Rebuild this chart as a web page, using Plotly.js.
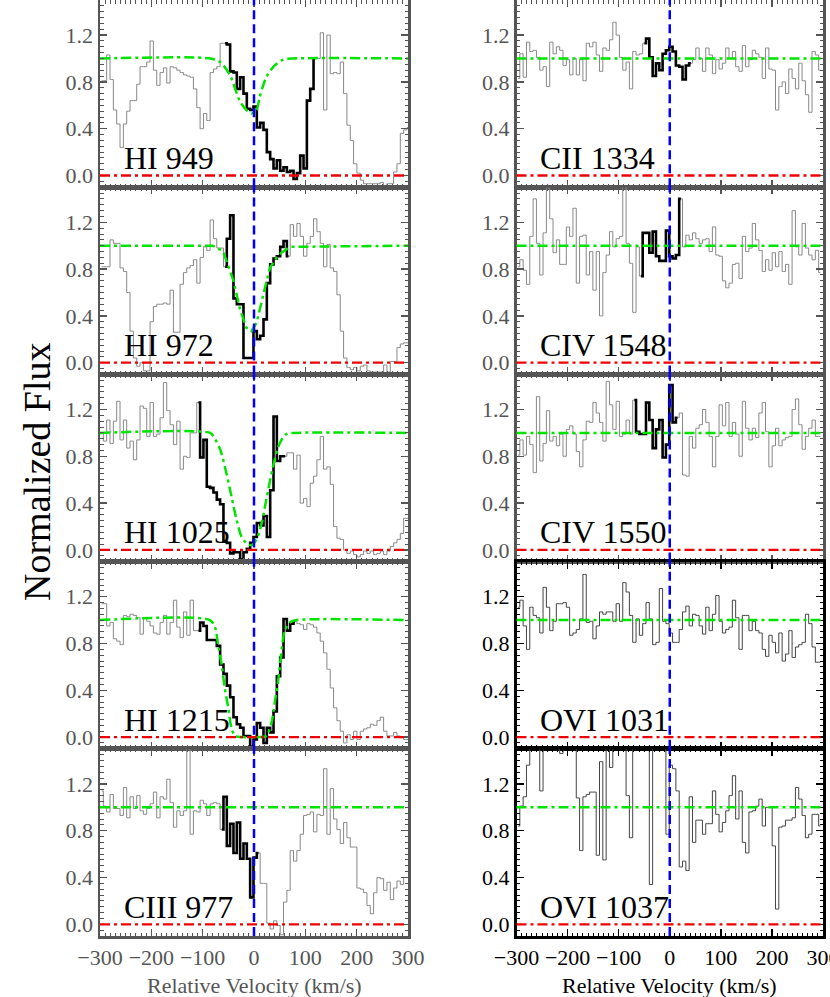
<!DOCTYPE html>
<html>
<head>
<meta charset="utf-8">
<script src="https://cdn.plot.ly/plotly-3.0.1.min.js"></script>
<style>html,body{margin:0;padding:0;background:#fff}#chart{width:830px;height:997px}</style>
</head>
<body>
<div id="chart"></div>
<script>
// ---------- velocity grid (bin centres, km/s) ----------
const V_START = -296.75;
const V_STEP = 6.5;

// ---------- panel labels ----------
const labels = ["HI 949", "HI 972", "HI 1025", "HI 1215", "CIII 977",
                "CII 1334", "CIV 1548", "CIV 1550", "OVI 1031", "OVI 1037"];

// ---------- normalized flux per panel ----------
const flux_HI949 = [0.81,0.81,1.03,0.82,0.56,0.44,0.24,0.44,0.55,0.64,
  0.64,0.78,0.93,0.93,0.97,1.15,0.90,0.77,0.88,0.92,
  0.79,0.93,0.92,0.90,0.88,0.86,0.85,0.84,0.74,0.58,
  0.40,0.53,0.47,0.88,0.91,0.93,1.13,1.13,1.12,0.89,
  0.88,0.74,0.84,0.70,0.57,0.56,0.59,0.41,0.45,0.39,
  0.20,0.14,0.06,0.13,0.04,0.07,0.03,0.04,-0.03,0.02,
  0.17,0.06,0.64,0.74,1.00,1.00,1.22,0.56,1.20,0.87,
  0.88,0.87,0.97,0.70,0.43,0.30,0.10,0.02,-0.04,-0.07,
  -0.07,-0.07,-0.07,-0.07,-0.06,-0.09,-0.07,-0.07,0.03,0.10,
  0.36,0.39,0.41];
const flux_HI972 = [0.82,0.82,0.82,1.05,1.02,1.02,0.81,0.78,0.60,0.27,
  0.04,-0.03,0.00,-0.07,-0.07,0.35,0.48,0.50,0.50,0.51,
  0.50,0.62,0.26,0.26,0.67,0.77,0.81,0.83,0.88,0.68,
  0.90,0.99,0.96,1.22,1.06,0.98,0.98,0.82,1.06,1.26,
  0.55,0.50,0.50,0.04,0.04,0.04,0.27,0.20,0.23,0.37,
  0.68,0.84,0.89,0.91,0.99,1.04,0.91,1.18,1.08,1.19,
  1.08,0.91,1.02,1.08,1.23,1.12,1.02,0.82,1.01,0.81,
  0.78,0.58,0.27,0.04,-0.04,-0.06,-0.04,-0.07,-0.03,-0.02,
  -0.07,-0.08,-0.08,-0.08,-0.08,-0.02,-0.08,0.01,0.01,0.13,
  0.16,0.17,0.17];
const flux_HI1025 = [1.00,0.93,1.11,0.91,1.10,1.27,0.94,1.11,0.87,0.93,
  0.77,0.94,1.23,1.21,0.97,1.26,0.97,0.99,1.13,1.43,
  1.19,1.07,0.90,1.10,0.69,0.80,0.79,1.00,1.00,1.26,
  0.79,0.94,0.54,0.53,0.49,0.43,0.39,0.07,0.06,-0.03,
  -0.02,-0.02,-0.08,-0.02,0.01,0.06,0.11,0.23,0.21,0.29,
  0.11,0.51,1.14,0.76,0.80,0.80,0.83,0.83,0.69,0.81,
  0.40,0.44,0.37,0.57,0.63,0.77,0.97,0.69,0.71,0.56,
  0.20,0.10,0.09,0.00,-0.03,-0.01,-0.04,-0.06,-0.04,-0.01,
  -0.03,-0.01,-0.04,-0.03,-0.01,-0.04,-0.01,0.03,0.06,0.09,
  0.14,0.27,0.27];
const flux_HI1215 = [1.14,1.14,0.95,0.98,0.84,0.82,0.79,1.04,1.03,1.05,
  1.04,1.02,0.88,1.02,0.99,0.95,0.89,0.88,0.98,1.04,
  0.88,0.98,1.17,0.94,0.85,1.07,0.87,1.17,0.91,0.91,
  0.98,0.95,0.83,0.83,0.83,0.78,0.62,0.54,0.44,0.34,
  0.17,0.11,0.08,0.01,0.01,-0.08,-0.02,0.12,0.08,-0.05,
  0.08,0.04,0.22,0.52,0.68,1.01,0.91,0.97,0.99,0.97,
  0.96,0.92,0.97,0.96,0.94,0.89,0.82,0.72,0.58,0.42,
  0.25,0.14,0.05,-0.05,0.02,-0.02,0.05,-0.02,0.05,0.07,
  0.08,0.11,0.10,0.14,0.17,0.05,0.01,0.01,0.04,0.01,
  0.00,-0.02,-0.02];
const flux_CIII977 = [1.14,1.01,0.96,1.11,0.99,0.99,0.93,1.17,0.91,1.09,
  0.99,1.10,0.97,0.94,0.99,1.03,1.13,0.91,1.09,1.07,
  1.24,1.04,0.83,0.97,0.93,0.97,1.60,0.77,0.97,0.96,
  1.06,1.03,0.93,1.03,1.04,1.03,0.81,1.09,0.67,0.86,
  0.61,0.87,0.56,0.69,0.56,0.23,0.57,0.61,0.35,0.35,
  0.01,-0.04,0.03,-0.01,-0.09,0.19,0.29,0.63,0.54,0.63,
  0.77,0.93,0.94,0.96,0.79,0.94,0.93,1.33,0.77,1.16,
  0.90,0.81,0.69,0.87,0.74,0.66,0.66,0.31,0.30,0.27,
  0.16,0.09,0.27,0.40,0.39,0.29,0.36,0.21,0.31,0.37,
  0.34,0.40,0.40];
const flux_CII1334 = [0.83,1.04,0.84,1.14,1.06,1.07,1.01,0.90,0.93,0.76,
  1.14,1.04,1.10,1.07,0.94,0.99,0.86,1.00,0.86,0.99,
  0.81,1.13,1.10,1.14,1.03,0.89,1.09,1.07,1.16,1.31,
  1.20,1.01,0.90,0.97,0.74,1.06,1.03,1.04,1.13,1.17,
  1.01,0.85,0.96,0.90,1.04,1.07,1.10,1.06,0.94,0.93,
  0.82,0.94,0.96,0.99,1.09,1.00,0.89,1.09,1.03,0.87,
  0.99,0.91,0.96,1.09,1.00,1.06,0.93,0.89,1.11,0.93,
  0.99,1.07,1.04,1.01,0.83,1.09,0.91,0.90,0.56,0.76,
  0.80,0.70,0.91,0.83,0.74,0.96,0.81,0.69,0.54,1.06,
  1.03,0.90];
const flux_CIV1548 = [0.82,0.88,0.79,0.67,1.08,1.40,1.02,0.75,1.11,1.49,
  1.23,0.94,1.05,0.84,0.84,1.16,1.08,1.32,0.68,1.08,
  1.09,0.75,0.95,0.62,0.95,0.40,0.77,0.92,1.12,0.99,
  1.06,1.08,1.52,1.02,0.85,0.43,0.99,0.74,1.11,1.11,
  0.94,1.12,0.91,0.87,0.87,1.13,0.91,0.89,0.92,1.40,
  0.99,1.09,1.05,1.11,1.06,1.02,1.05,1.06,0.95,1.16,
  0.92,0.91,0.70,0.64,0.68,0.84,0.85,0.72,1.08,0.95,
  0.98,1.19,1.05,0.96,0.78,0.88,0.79,0.94,0.82,0.95,
  0.78,0.84,0.67,1.30,0.99,0.92,1.19,0.98,0.92,0.88,
  0.96,0.77];
const flux_CIV1550 = [0.81,0.94,0.81,0.97,0.90,0.66,1.31,0.76,0.91,1.19,
  0.93,0.97,0.89,0.99,0.80,1.03,1.06,0.99,0.84,0.71,
  0.94,1.10,1.09,1.26,1.17,1.09,0.93,1.44,1.24,1.03,
  1.27,0.97,0.99,1.11,0.99,1.28,1.01,0.99,0.99,1.26,
  1.11,0.87,1.03,1.11,0.79,0.90,1.41,1.09,1.13,1.17,
  0.64,0.63,0.97,0.87,1.04,1.07,1.20,1.09,0.97,0.71,
  0.97,1.24,1.06,1.26,0.97,1.09,0.99,0.80,1.27,1.04,
  0.94,1.04,0.96,1.17,1.26,1.01,0.71,0.89,1.04,0.89,
  0.94,0.96,0.97,1.20,1.29,1.07,0.86,0.97,1.04,1.11,
  0.97,0.97];
const flux_OVI1031 = [1.11,1.17,0.95,0.75,1.11,1.04,1.02,0.89,1.28,1.11,
  0.91,0.99,1.14,1.14,1.15,1.11,0.87,0.89,0.92,1.01,
  1.39,0.98,0.99,0.84,0.95,1.07,1.05,1.07,1.07,0.99,
  1.14,0.99,1.32,1.24,1.04,0.81,1.01,0.87,0.97,1.15,
  1.01,0.79,0.81,1.27,0.99,0.97,0.89,0.81,0.81,0.92,
  1.07,1.12,0.95,1.05,1.04,0.95,0.88,1.11,0.91,1.05,
  1.21,0.99,0.89,0.92,0.94,1.17,1.02,0.75,1.04,1.04,
  0.91,0.99,0.91,0.89,0.75,0.69,0.87,0.81,0.72,0.89,
  0.65,0.71,0.91,0.68,0.77,0.79,0.81,1.05,0.97,0.77,
  0.64,0.64];
const flux_OVI1037 = [0.84,1.01,1.09,1.36,1.60,1.60,1.60,1.14,1.60,1.60,
  1.60,1.60,1.60,1.46,1.60,1.60,1.60,1.60,1.08,0.63,
  1.09,1.11,1.13,1.13,0.59,1.39,0.55,1.60,1.34,1.60,
  1.60,1.60,1.60,1.10,0.74,1.60,1.60,1.60,1.60,1.60,
  0.34,1.60,1.60,1.60,1.60,0.77,1.36,1.33,1.14,0.49,
  0.54,0.46,1.09,0.70,0.89,0.89,0.77,0.86,0.86,1.14,
  0.94,0.79,0.87,0.97,1.10,1.27,0.90,1.14,0.70,0.61,
  0.96,0.97,1.01,1.07,0.84,1.00,1.00,0.67,0.13,0.83,
  0.84,0.89,0.89,0.91,1.17,1.07,0.93,0.74,0.77,0.94,
  0.94,0.84];

// ---------- velocity range of the highlighted (black) component ----------
const hl_HI949 = [-60, 122];
const hl_HI972 = [-58, 70];
const hl_HI1025 = [-110, 62];
const hl_HI1215 = [-110, 82];
const hl_CIII977 = [-66, 10];
const hl_CII1334 = [-52, 43];
const hl_CIV1548 = [-58, 24];
const hl_CIV1550 = [-70, 17];

// ---------- model fits (velocity knots, model flux) ----------
const fitV_HI949 = [-300,-85,-66,-47,-28,-15,-5,5,11,24,40,57,75,300];
const fitF_HI949 = [1,1,0.97,0.86,0.64,0.56,0.53,0.56,0.67,0.84,0.94,0.99,1,1];
const fitV_HI972 = [-300,-80,-60,-40,-28,-15,-5,5,18,31,47,70,300];
const fitF_HI972 = [1,1,0.95,0.70,0.47,0.30,0.27,0.34,0.58,0.81,0.92,0.99,1];
const fitV_HI1025 = [-300,-85,-79,-66,-54,-44,-34,-24,-15,-5,5,15,24,37,50,63,80,300];
const fitF_HI1025 = [1,1,0.97,0.86,0.66,0.46,0.26,0.11,0.06,0.04,0.09,0.23,0.43,0.71,0.91,0.99,1,1];
const fitV_HI1215 = [-300,-86,-76,-70,-63,-57,-50,-44,-37,-24,11,24,34,40,47,53,60,70,83,300];
const fitF_HI1215 = [1,1,0.94,0.79,0.62,0.42,0.25,0.08,0.01,0,0,0.01,0.12,0.28,0.48,0.71,0.91,0.98,1,1];

const CONTINUUM = 1.0;
const ZERO_FLUX = 0.0;
const SYSTEMIC_V = 0;

const panels = [
  {label: labels[0], flux: flux_HI949, hl: hl_HI949, fitV: fitV_HI949, fitF: fitF_HI949, fitShape: 'spline'},
  {label: labels[1], flux: flux_HI972, hl: hl_HI972, fitV: fitV_HI972, fitF: fitF_HI972, fitShape: 'linear'},
  {label: labels[2], flux: flux_HI1025, hl: hl_HI1025, fitV: fitV_HI1025, fitF: fitF_HI1025, fitShape: 'spline'},
  {label: labels[3], flux: flux_HI1215, hl: hl_HI1215, fitV: fitV_HI1215, fitF: fitF_HI1215, fitShape: 'spline'},
  {label: labels[4], flux: flux_CIII977, hl: hl_CIII977},
  {label: labels[5], flux: flux_CII1334, hl: hl_CII1334},
  {label: labels[6], flux: flux_CIV1548, hl: hl_CIV1548},
  {label: labels[7], flux: flux_CIV1550, hl: hl_CIV1550},
  {label: labels[8], flux: flux_OVI1031, dark: true},
  {label: labels[9], flux: flux_OVI1037, dark: true}
];

const W = 830, H = 997, PANEL_H = 187.2;
const colPx = [[100, 408], [516.5, 823]];
const SERIF = 'Liberation Serif, Times New Roman, serif';
const GREEN = '#00e400', RED = '#ee0000', BLUE = '#0000ff';
const DASHDOT = '10px,4px,3px,4px';

const traces = [];
const layout = {
  width: W, height: H,
  margin: {l: 0, r: 0, t: 0, b: 0},
  paper_bgcolor: '#ffffff', plot_bgcolor: '#ffffff',
  showlegend: false,
  shapes: [], annotations: []
};

panels.forEach((p, k) => {
  const n = k + 1;
  const col = k < 5 ? 0 : 1;
  const row = k % 5;
  const xa = 'x' + n, ya = 'y' + n;
  const frame = p.dark ? '#000000' : '#555555';
  const specColor = p.dark ? '#444444' : '#888888';

  // full spectrum
  traces.push({
    type: 'scatter', mode: 'lines', x0: V_START, dx: V_STEP, y: p.flux,
    line: {color: specColor, width: 1, shape: 'hvh'},
    xaxis: xa, yaxis: ya, hoverinfo: 'skip'
  });
  // highlighted component
  if (p.hl) {
    const idx = [];
    p.flux.forEach((f, i) => { const v = V_START + V_STEP * i; if (v >= p.hl[0] && v <= p.hl[1]) idx.push(i); });
    traces.push({
      type: 'scatter', mode: 'lines', x0: V_START + V_STEP * idx[0], dx: V_STEP,
      y: idx.map(i => p.flux[i]),
      line: {color: '#000000', width: 2.6, shape: 'hvh'},
      xaxis: xa, yaxis: ya, hoverinfo: 'skip'
    });
  }
  // model / continuum
  if (p.fitV) {
    traces.push({
      type: 'scatter', mode: 'lines', x: p.fitV, y: p.fitF,
      line: {color: GREEN, width: 2.5, dash: DASHDOT, shape: p.fitShape, smoothing: 0.8},
      xaxis: xa, yaxis: ya, hoverinfo: 'skip'
    });
  } else {
    layout.shapes.push({type: 'line', xref: xa + ' domain', yref: ya, x0: 0, x1: 1, y0: CONTINUUM, y1: CONTINUUM,
      line: {color: GREEN, width: 2.5, dash: DASHDOT}});
  }
  // zero level
  layout.shapes.push({type: 'line', xref: xa + ' domain', yref: ya, x0: 0, x1: 1, y0: ZERO_FLUX, y1: ZERO_FLUX,
    line: {color: RED, width: 2.3, dash: DASHDOT}});
  // systemic velocity
  layout.shapes.push({type: 'line', xref: xa, yref: ya + ' domain', x0: SYSTEMIC_V, x1: SYSTEMIC_V, y0: 0, y1: 1,
    line: {color: BLUE, width: 2.5, dash: '9px,5px'}});

  const bottom = row === 4;
  const axisCommon = {
    showline: true, linewidth: 2.5, linecolor: frame, mirror: 'allticks',
    ticks: 'inside', ticklen: 7, tickwidth: 1.5, tickcolor: frame,
    showgrid: false, zeroline: false,
    tickfont: {family: SERIF, size: 22, color: frame}
  };
  layout['xaxis' + n] = Object.assign({}, axisCommon, {
    domain: [colPx[col][0] / W, colPx[col][1] / W],
    range: [-300, 300], anchor: ya, tick0: 0, dtick: 100,
    minor: {ticks: 'inside', ticklen: 3.5, dtick: 10, tickcolor: frame, tickwidth: 1},
    showticklabels: bottom, ticklabeloverflow: 'allow'
  });
  layout['yaxis' + n] = Object.assign({}, axisCommon, {
    domain: [1 - (row + 1) * PANEL_H / H, 1 - row * PANEL_H / H],
    range: [-0.1, 1.5], anchor: xa, tick0: 0, dtick: 0.4, tickformat: '.1f',
    minor: {ticks: 'inside', ticklen: 3.5, dtick: 0.05, tickcolor: frame, tickwidth: 1}
  });

  layout.annotations.push({
    xref: xa, yref: ya, x: -257, y: 0.15, xanchor: 'left', yanchor: 'middle',
    text: p.label, showarrow: false, font: {family: SERIF, size: 32, color: '#000000'}
  });
});

// axis titles
layout.annotations.push({
  xref: 'paper', yref: 'paper', x: 254 / W, y: 1 - 985 / H, xanchor: 'center', yanchor: 'middle',
  text: 'Relative Velocity (km/s)', showarrow: false, font: {family: SERIF, size: 22, color: '#555555'}
});
layout.annotations.push({
  xref: 'paper', yref: 'paper', x: 669.5 / W, y: 1 - 985 / H, xanchor: 'center', yanchor: 'middle',
  text: 'Relative Velocity (km/s)', showarrow: false, font: {family: SERIF, size: 22, color: '#000000'}
});
layout.annotations.push({
  xref: 'paper', yref: 'paper', x: 37 / W, y: 1 - 472 / H, xanchor: 'center', yanchor: 'middle',
  text: 'Normalized Flux', textangle: -90, showarrow: false, font: {family: SERIF, size: 38, color: '#000000'}
});

Plotly.newPlot('chart', traces, layout, {staticPlot: true, displayModeBar: false});
</script>
</body>
</html>
